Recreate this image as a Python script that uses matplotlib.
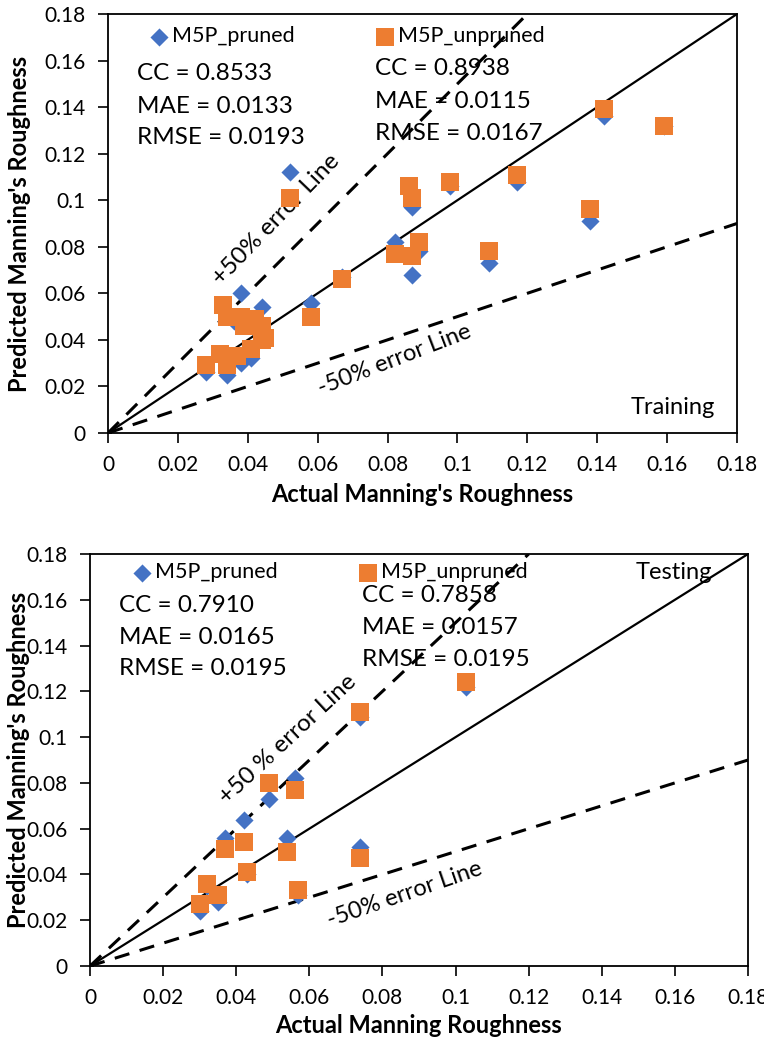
import numpy as np
import matplotlib.pyplot as plt

plt.rcParams['font.family'] = ['Lato', 'DejaVu Sans']

# training set (actual, predicted)
train_x_pruned = [0.142, 0.117, 0.098, 0.087, 0.052, 0.138, 0.082, 0.089, 0.087, 0.109,
                  0.067, 0.058, 0.038, 0.044, 0.034, 0.028, 0.034, 0.038, 0.041, 0.036,
                  0.040, 0.043, 0.159, 0.086]
train_y_pruned = [0.136, 0.108, 0.106, 0.097, 0.112, 0.091, 0.082, 0.078, 0.068, 0.073,
                  0.067, 0.056, 0.060, 0.054, 0.052, 0.026, 0.025, 0.030, 0.032, 0.048,
                  0.049, 0.045, 0.132, 0.104]
train_x_unpruned = [0.142, 0.159, 0.117, 0.098, 0.086, 0.087, 0.052, 0.138, 0.082, 0.089,
                    0.087, 0.109, 0.067, 0.058, 0.033, 0.034, 0.038, 0.042, 0.044, 0.045,
                    0.039, 0.028, 0.032, 0.034, 0.037, 0.041, 0.044]
train_y_unpruned = [0.139, 0.132, 0.111, 0.108, 0.106, 0.101, 0.101, 0.096, 0.077, 0.082,
                    0.076, 0.078, 0.066, 0.050, 0.055, 0.050, 0.050, 0.049, 0.046, 0.041,
                    0.046, 0.029, 0.034, 0.029, 0.033, 0.036, 0.040]

# testing set (actual, predicted)
test_x_pruned = [0.049, 0.056, 0.042, 0.037, 0.054, 0.035, 0.030, 0.057, 0.074, 0.103,
                 0.074, 0.032, 0.043]
test_y_pruned = [0.073, 0.082, 0.064, 0.056, 0.056, 0.028, 0.024, 0.031, 0.109, 0.122,
                 0.052, 0.035, 0.040]
test_x_unpruned = [0.049, 0.056, 0.037, 0.042, 0.054, 0.043, 0.032, 0.035, 0.030, 0.057,
                   0.074, 0.103, 0.074]
test_y_unpruned = [0.080, 0.077, 0.051, 0.054, 0.050, 0.041, 0.036, 0.031, 0.027, 0.033,
                   0.111, 0.124, 0.047]

ticks = [0, 0.02, 0.04, 0.06, 0.08, 0.1, 0.12, 0.14, 0.16, 0.18]
tick_labels = ['0', '0.02', '0.04', '0.06', '0.08', '0.1', '0.12', '0.14', '0.16', '0.18']

train_stats = [('CC = 0.8533', 'MAE = 0.0133', 'RMSE = 0.0193'),
               ('CC = 0.8938', 'MAE = 0.0115', 'RMSE = 0.0167')]
test_stats = [('CC = 0.7910', 'MAE = 0.0165', 'RMSE = 0.0195'),
              ('CC = 0.7858', 'MAE = 0.0157', 'RMSE = 0.0195')]

blue = '#4472C4'
orange = '#ED7D31'

fig = plt.figure(figsize=(7.64, 10.43), dpi=100)
ax1 = fig.add_axes([0.1414, 0.5849, 0.8233, 0.4017])
ax2 = fig.add_axes([0.1178, 0.0738, 0.8612, 0.3950])


def draw_panel(ax, xp, yp, xu, yu, stats, stat_pos, leg_y, tag, tag_pos,
               plus_txt, plus_pos, plus_rot, minus_pos, minus_rot, xlabel,
               xlab_y, ylab_x):
    lim = 0.18
    line = np.array([0, lim])
    ax.plot(line, line, color='black', lw=1.6, zorder=1)
    ax.plot(line / 1.5, line, color='black', lw=2.2, ls=(0, (5, 3.5)), zorder=1)
    ax.plot(line, line * 0.5, color='black', lw=2.2, ls=(0, (5, 3.5)), zorder=1)
    ax.plot([0], [0], marker='o', color='black', ms=4, zorder=1)

    ax.scatter(xp, yp, marker='D', s=85, color=blue, linewidths=0, zorder=3,
               label='M5P_pruned')
    ax.scatter(xu, yu, marker='s', s=170, color=orange, linewidths=0, zorder=4,
               label='M5P_unpruned')

    ax.set_xlim(0, lim)
    ax.set_ylim(0, lim)
    ax.set_xticks(ticks)
    ax.set_xticklabels(tick_labels)
    ax.set_yticks(ticks)
    ax.set_yticklabels(tick_labels)
    ax.tick_params(direction='out', length=7, width=1.2, labelsize=15, pad=9,
                   colors='black')
    for s in ax.spines.values():
        s.set_linewidth(1.3)

    ax.legend(loc='center left', bbox_to_anchor=(0.06, leg_y), ncol=2, frameon=False,
              fontsize=15.5, handletextpad=0.0, columnspacing=3.6, handlelength=1.2,
              borderaxespad=0, borderpad=0)

    for (sx, ys), lines in zip(stat_pos, stats):
        for yy, txt in zip(ys, lines):
            ax.text(sx, yy, txt, transform=ax.transAxes, fontsize=17.5, va='center',
                    ha='left')

    ax.text(tag_pos[0], tag_pos[1], tag, transform=ax.transAxes, fontsize=17,
            ha='right', va='center')
    ax.text(plus_pos[0], plus_pos[1], plus_txt, transform=ax.transAxes, fontsize=17.5,
            rotation=plus_rot, ha='center', va='center', rotation_mode='anchor')
    ax.text(minus_pos[0], minus_pos[1], '-50% error Line', transform=ax.transAxes,
            fontsize=17, rotation=minus_rot, ha='center', va='center',
            rotation_mode='anchor')

    ax.set_xlabel(xlabel, fontsize=17, fontweight='bold', va='center')
    ax.set_ylabel("Predicted Manning's Roughness", fontsize=17, fontweight='bold',
                  va='center')
    ax.xaxis.set_label_coords(0.5, xlab_y)
    ax.yaxis.set_label_coords(ylab_x, 0.5)


draw_panel(ax1, train_x_pruned, train_y_pruned, train_x_unpruned, train_y_unpruned,
           train_stats, [(0.046, (0.859, 0.780, 0.706)), (0.424, (0.869, 0.790, 0.714))],
           0.947, 'Training', (0.965, 0.06),
           '+50% error Line', (0.268, 0.51), 46, (0.456, 0.174), 21,
           "Actual Manning's Roughness", -0.148, -0.140)

draw_panel(ax2, test_x_pruned, test_y_pruned, test_x_unpruned, test_y_unpruned,
           test_stats, [(0.044, (0.876, 0.798, 0.723)), (0.413, (0.900, 0.822, 0.745))],
           0.956, 'Testing', (0.945, 0.956),
           '+50 % error Line', (0.300, 0.55), 43, (0.479, 0.173), 19,
           'Actual Manning Roughness', -0.144, -0.109)

fig.savefig('out.png', dpi=100)
